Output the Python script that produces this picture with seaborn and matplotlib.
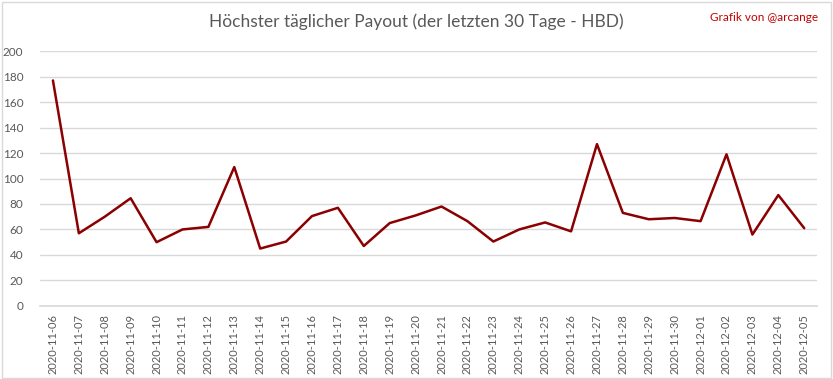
import pandas as pd
import matplotlib.pyplot as plt
import seaborn as sns
from matplotlib.patches import Rectangle

# ---------------------------
# DATA
# ---------------------------
DATES = [
    "2020-11-06", "2020-11-07", "2020-11-08", "2020-11-09", "2020-11-10",
    "2020-11-11", "2020-11-12", "2020-11-13", "2020-11-14", "2020-11-15",
    "2020-11-16", "2020-11-17", "2020-11-18", "2020-11-19", "2020-11-20",
    "2020-11-21", "2020-11-22", "2020-11-23", "2020-11-24", "2020-11-25",
    "2020-11-26", "2020-11-27", "2020-11-28", "2020-11-29", "2020-11-30",
    "2020-12-01", "2020-12-02", "2020-12-03", "2020-12-04", "2020-12-05",
]
PAYOUT = [
    177, 57, 70, 84.5, 50, 60, 62, 109, 45, 50.5,
    70.5, 77, 47, 65, 71, 78, 66.5, 50.5, 60, 65.5,
    58.5, 127, 73, 68, 69, 66.5, 119, 56, 87, 61,
]
Y_TICKS = [0, 20, 40, 60, 80, 100, 120, 140, 160, 180, 200]

TITLE = "Höchster täglicher Payout (der letzten 30 Tage - HBD)"
CREDIT = "Grafik von @arcange"

GRID = "#d9d9d9"
TEXT = "#595959"
LINE = "#8b0000"


def main():
    sns.set_theme(style="white")
    plt.rcParams["font.family"] = ["Lato", "DejaVu Sans"]

    df = pd.DataFrame({"date": DATES, "payout": PAYOUT})

    fig = plt.figure(figsize=(8.33, 3.79), dpi=100)
    ax = fig.add_axes([0.048, 0.193, 0.933, 0.672])

    sns.lineplot(data=df, x="date", y="payout", ax=ax, color=LINE, linewidth=1.8)

    ax.set_xlim(-0.5, len(DATES) - 0.5)
    ax.set_ylim(Y_TICKS[0], Y_TICKS[-1])
    ax.set_yticks(Y_TICKS)
    ax.yaxis.grid(True, color=GRID, linewidth=1)
    ax.set_axisbelow(True)
    for side in ["top", "right", "left"]:
        ax.spines[side].set_visible(False)
    ax.spines["bottom"].set_color(GRID)
    ax.tick_params(axis="x", labelrotation=90, labelsize=8, colors=TEXT, length=0, pad=6)
    ax.tick_params(axis="y", labelsize=8.5, colors=TEXT, length=0, pad=12)
    ax.set_xlabel("")
    ax.set_ylabel("")

    fig.text(0.5, 0.942, TITLE, ha="center", va="center", fontsize=12.5,
             color=TEXT, fontweight="normal")
    fig.text(0.982, 0.955, CREDIT, ha="right", va="center", fontsize=8.5,
             color="#c00000")

    # light frame around the whole chart
    fig.patches.append(Rectangle((0.002, 0.003), 0.995, 0.993, transform=fig.transFigure,
                                 fill=False, edgecolor=GRID, linewidth=1))

    fig.savefig("out.png", dpi=100)
    plt.close(fig)


if __name__ == "__main__":
    main()
